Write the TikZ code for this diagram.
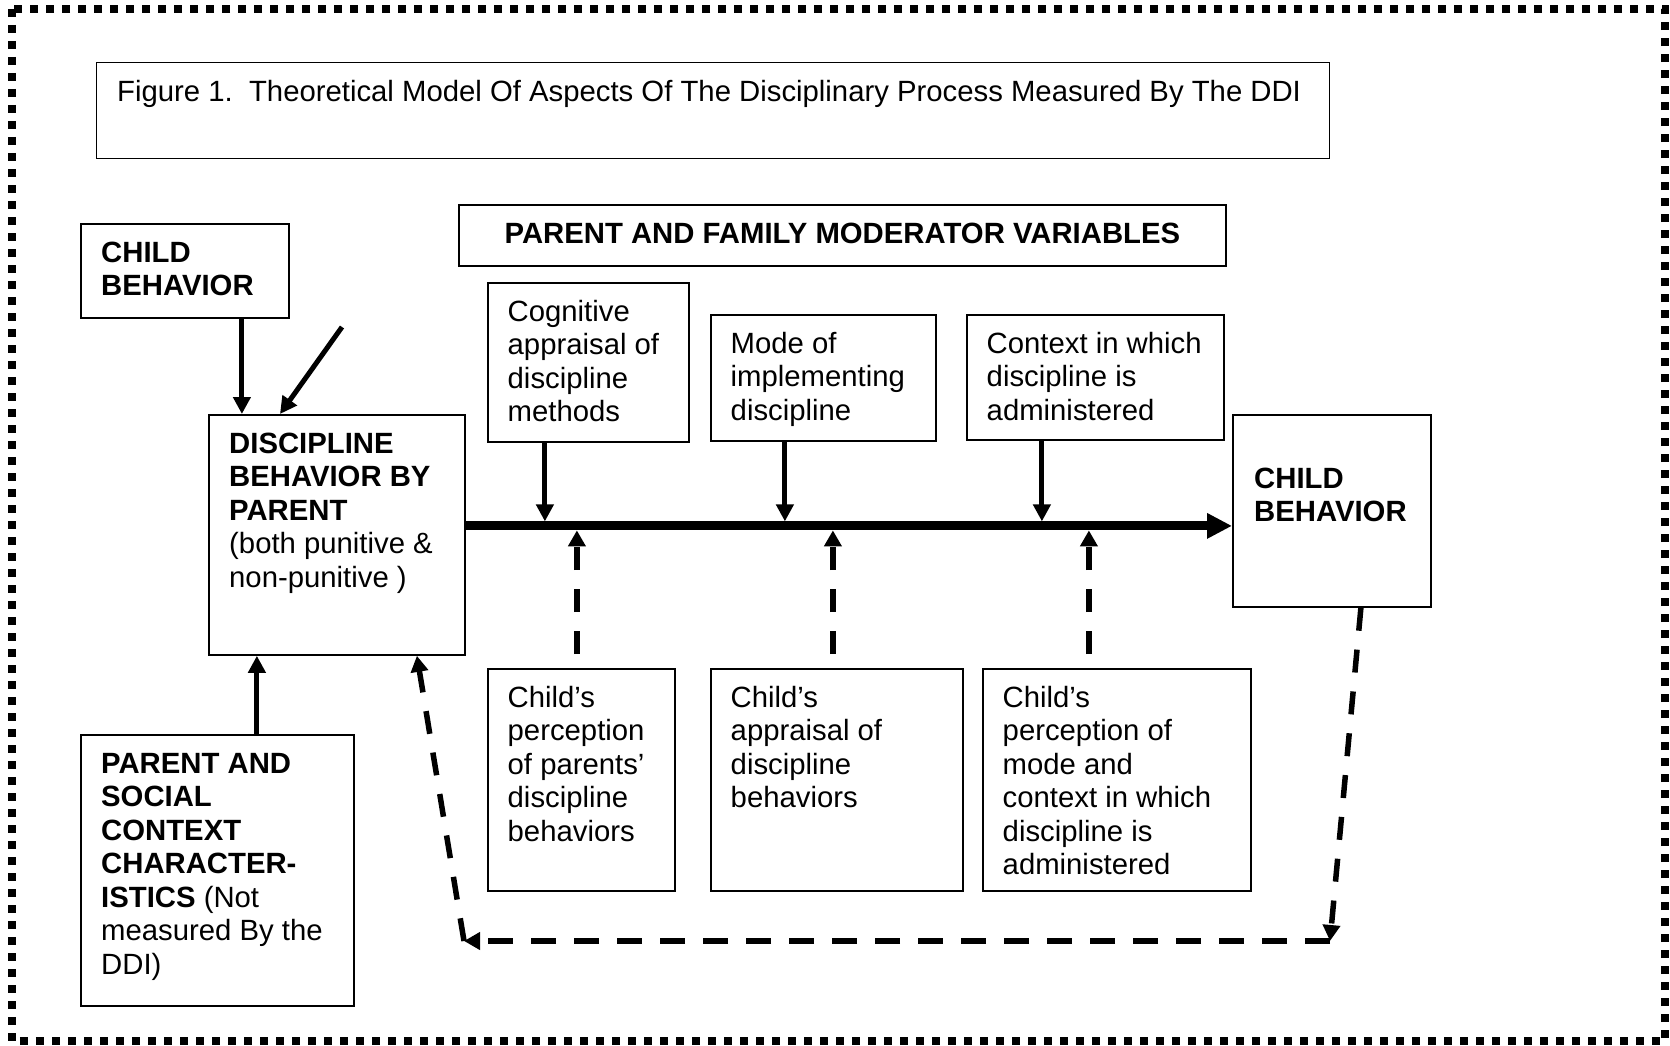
\documentclass[tikz,border=0pt]{standalone}
\usepackage{fontspec}
\setmainfont{Liberation Sans}
\usetikzlibrary{arrows.meta}

\begin{document}
\begin{tikzpicture}[x=1pt,y=-1pt]
\tikzstyle{every node}+=[inner sep=0pt]
\tikzstyle{box}=[draw, line width=1.8pt, anchor=north west]
\tikzstyle{txt}=[anchor=north west, align=left, font=\fontsize{29.3}{33.5}\selectfont]
\tikzstyle{solidarrow}=[line width=5pt, -{Triangle[length=17pt,width=17pt]}]
\tikzstyle{mainarrow}=[line width=9pt, -{Triangle[length=25pt,width=24pt]}]
\tikzstyle{dasharrow}=[line width=5.5pt, dash pattern=on 23pt off 19pt, -{Triangle[length=16pt,width=17pt]}]
\useasboundingbox (0,0) rectangle (1670,1046);
\draw[line width=8pt, dash pattern=on 8pt off 8pt] (12,9) rectangle (1665,1041);
% title
\node[box, line width=1.4pt, minimum width=1233pt, minimum height=96pt] (title) at (96,62) {};
\node[txt] (titletext) at ([shift={(21,15.5)}]title.north west) {\strut Figure 1.\ \ Theoretical Model Of Aspects Of The Disciplinary Process Measured By The DDI};
% boxes
\node[box, minimum width=208pt, minimum height=94pt] (cb1) at (80,223) {};
\node[txt, font=\fontsize{29.3}{33.5}\selectfont\bfseries] (cb1text) at ([shift={(21,15.5)}]cb1.north west) {\strut CHILD\\BEHAVIOR};
\node[box, minimum width=767pt, minimum height=61pt] (mod) at (458,204) {};
\node[txt, anchor=north, font=\fontsize{29.3}{33.5}\selectfont\bfseries] (modtext) at ([shift={(0,15.5)}]mod.north) {\strut PARENT AND FAMILY MODERATOR VARIABLES};
\node[box, minimum width=201pt, minimum height=159pt] (cog) at (487,282) {};
\node[txt] (cogtext) at ([shift={(20.5,15.5)}]cog.north west) {\strut Cognitive\\appraisal of\\discipline\\methods};
\node[box, minimum width=225pt, minimum height=126pt] (mode) at (710,314) {};
\node[txt] (modetext) at ([shift={(20.5,15.5)}]mode.north west) {\strut Mode of\\implementing\\discipline};
\node[box, minimum width=257pt, minimum height=125pt] (ctx) at (966,314) {};
\node[txt] (ctxtext) at ([shift={(20.5,15.5)}]ctx.north west) {\strut Context in which\\discipline is\\administered};
\node[box, minimum width=256pt, minimum height=240pt] (disc) at (208,414) {};
\node[txt] (disctext) at ([shift={(21,15.5)}]disc.north west) {\strut\textbf{DISCIPLINE}\\\textbf{BEHAVIOR BY}\\\textbf{PARENT}\\(both punitive \&\\non-punitive )};
\node[box, minimum width=198pt, minimum height=192pt] (cb2) at (1232,414) {};
\node[txt, font=\fontsize{29.3}{33.5}\selectfont\bfseries] (cb2text) at ([shift={(22,50.5)}]cb2.north west) {\strut CHILD\\BEHAVIOR};
\node[box, minimum width=187pt, minimum height=222pt] (perc1) at (487,668) {};
\node[txt] (perc1text) at ([shift={(20.5,15.5)}]perc1.north west) {\strut Child’s\\perception\\of parents’\\discipline\\behaviors};
\node[box, minimum width=252pt, minimum height=222pt] (appr) at (710,668) {};
\node[txt] (apprtext) at ([shift={(20.5,15.5)}]appr.north west) {\strut Child’s\\appraisal of\\discipline\\behaviors};
\node[box, minimum width=268pt, minimum height=222pt] (perc2) at (982,668) {};
\node[txt] (perc2text) at ([shift={(20.5,15.5)}]perc2.north west) {\strut Child’s\\perception of\\mode and\\context in which\\discipline is\\administered};
\node[box, minimum width=273pt, minimum height=271pt] (ps) at (80,734) {};
\node[txt] (pstext) at ([shift={(21,15.5)}]ps.north west) {\strut\textbf{PARENT AND}\\\textbf{SOCIAL}\\\textbf{CONTEXT}\\\textbf{CHARACTER-}\\\textbf{ISTICS} (Not\\measured By the\\DDI)};
% main line
\coordinate (m0) at ([yshift=9pt]disc.east);
\draw[mainarrow] (m0) -- (m0 -| cb2.west);
% arrows into the discipline box
\coordinate (a1) at ([xshift=57pt]cb1.south);
\draw[solidarrow] (a1) -- (a1 |- disc.north);
\coordinate (free) at (342,327);
\draw[solidarrow] (free) -- ([xshift=72pt]disc.north west);
\coordinate (a2) at ([xshift=39.5pt]ps.north);
\draw[solidarrow] (a2) -- (a2 |- disc.south);
% moderators
\coordinate (c1) at ([xshift=-43.5pt]cog.south);
\coordinate (c2) at ([xshift=-38.5pt]mode.south);
\coordinate (c3) at ([xshift=-53.5pt]ctx.south);
\draw[solidarrow, shorten >=4.5pt] (c1) -- (c1 |- m0);
\draw[solidarrow, shorten >=4.5pt] (c2) -- (c2 |- m0);
\draw[solidarrow, shorten >=4.5pt] (c3) -- (c3 |- m0);
\coordinate (d1) at ([xshift=-4.5pt,yshift=14pt]perc1.north);
\coordinate (d2) at ([xshift=-4pt,yshift=14pt]appr.north);
\coordinate (d3) at ([xshift=-28pt,yshift=14pt]perc2.north);
\draw[dasharrow, shorten >=4.5pt] (d1) -- (d1 |- m0);
\draw[dasharrow, shorten >=4.5pt] (d2) -- (d2 |- m0);
\draw[dasharrow, shorten >=4.5pt] (d3) -- (d3 |- m0);
% feedback loop
\coordinate (br) at (1330,941);
\coordinate (bl) at (464,941);
\draw[dasharrow] ([xshift=29pt]cb2.south) -- (br);
\draw[dasharrow, dash pattern=on 25pt off 18pt] (br) -- (bl);
\draw[dasharrow] (bl) -- ([xshift=80pt]disc.south);
\end{tikzpicture}
\end{document}
